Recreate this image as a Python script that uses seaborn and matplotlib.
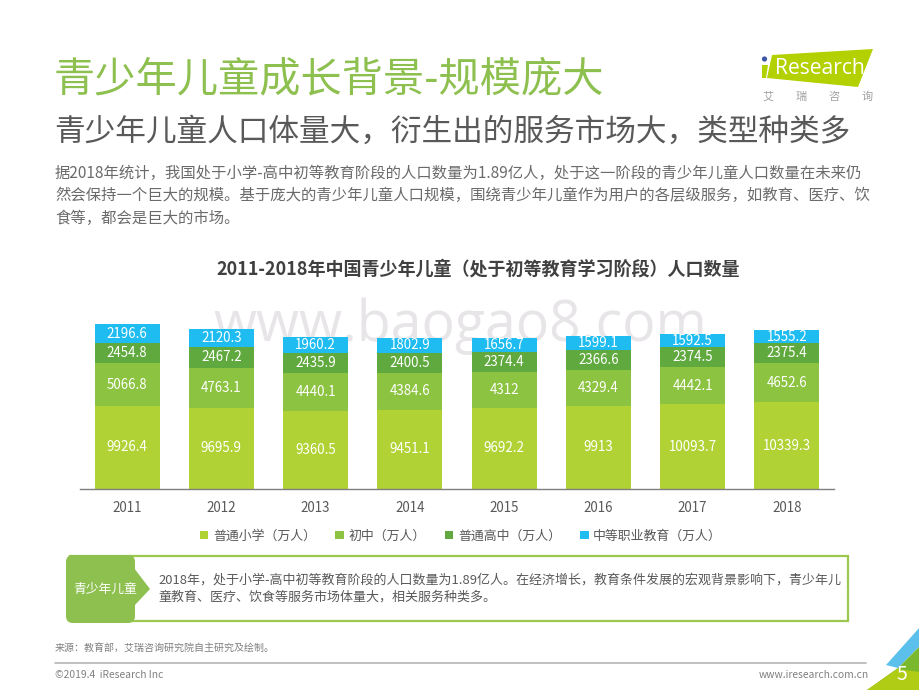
import numpy as np
import pandas as pd
import matplotlib
matplotlib.use("Agg")
import matplotlib.pyplot as plt
import seaborn as sns
from matplotlib.patches import FancyBboxPatch, Polygon, Rectangle, Circle

years = ["2011", "2012", "2013", "2014", "2015", "2016", "2017", "2018"]
primary = [9926.4, 9695.9, 9360.5, 9451.1, 9692.2, 9913, 10093.7, 10339.3]
junior = [5066.8, 4763.1, 4440.1, 4384.6, 4312, 4329.4, 4442.1, 4652.6]
senior = [2454.8, 2467.2, 2435.9, 2400.5, 2374.4, 2366.6, 2374.5, 2375.4]
vocational = [2196.6, 2120.3, 1960.2, 1802.9, 1656.7, 1599.1, 1592.5, 1555.2]
series_names = ["普通小学（万人）", "初中（万人）", "普通高中（万人）", "中等职业教育（万人）"]
series_colors = ["#b1d235", "#8cc340", "#5fa93e", "#1fbcf2"]

title = "青少年儿童成长背景-规模庞大"
subtitle = "青少年儿童人口体量大，衍生出的服务市场大，类型种类多"
body_lines = [
    "据2018年统计，我国处于小学-高中初等教育阶段的人口数量为1.89亿人，处于这一阶段的青少年儿童人口数量在未来仍",
    "然会保持一个巨大的规模。基于庞大的青少年儿童人口规模，围绕青少年儿童作为用户的各层级服务，如教育、医疗、饮",
    "食等，都会是巨大的市场。",
]
chart_title = "2011-2018年中国青少年儿童（处于初等教育学习阶段）人口数量"
callout_lines = [
    "2018年，处于小学-高中初等教育阶段的人口数量为1.89亿人。在经济增长，教育条件发展的宏观背景影响下，青少年儿",
    "童教育、医疗、饮食等服务市场体量大，相关服务种类多。",
]

sns.set_theme(style="white")
plt.rcParams["font.family"] = ["Noto Sans CJK SC", "DejaVu Sans"]

W, H = 920, 690
fig = plt.figure(figsize=(W / 100, H / 100), dpi=100, facecolor="white")

# page furniture is laid out in pixels on a full-size axes
bg = fig.add_axes([0, 0, 1, 1])
bg.set_xlim(0, W)
bg.set_ylim(H, 0)
bg.axis("off")

GREEN = "#8dc04f"
GREY = "#595959"

bg.text(54, 80, title, fontsize=29.7, color=GREEN, va="center")
bg.text(54, 132, subtitle, fontsize=22.1, color=GREY, va="center")
for y, line in zip([173, 195.5, 218], body_lines):
    bg.text(55, y, line, fontsize=11.05, color="#6a6a6a", va="center")
bg.text(478.5, 269, chart_title, fontsize=13, color="#404040", weight="bold", ha="center", va="center")

# watermark
bg.text(460, 326, "www.baogao8.com", fontsize=40, color="#e8e5e8", ha="center", va="center",
        family="Open Sans")

# logo
bg.add_patch(Polygon([(772, 55), (873, 49), (858, 87), (767, 78)], color="#b3d000", lw=0))
bg.add_patch(Polygon([(762, 65), (768, 65), (766, 78), (762, 78)], color="#b3d000", lw=0))
bg.add_patch(Circle((764.5, 59), 2.6, color="#3f56a6", lw=0))
bg.text(775, 69, "Research", fontsize=15.2, color="white", va="center", family="Open Sans")
for x, ch in zip([768, 801, 834, 867], "艾瑞咨询"):
    bg.text(x, 97, ch, fontsize=8, color="#a0a0a0", ha="center", va="center")

# callout box
bg.add_patch(Rectangle((70, 556), 778, 65, fill=False, edgecolor="#9cc850", lw=1.6))
bg.add_patch(FancyBboxPatch((70, 559), 61, 60, boxstyle="round,pad=4,rounding_size=7", color=GREEN, lw=0))
bg.add_patch(Polygon([(134, 568), (150, 589), (134, 606)], color=GREEN, lw=0))
bg.text(105, 589, "青少年儿童", fontsize=9.2, color="white", ha="center", va="center")
for y, line in zip([580, 597], callout_lines):
    bg.text(158, y, line, fontsize=9.35, color=GREY, va="center")

# footer
bg.text(55, 649, "来源：教育部，艾瑞咨询研究院自主研究及绘制。", fontsize=7.2, color="#808080", va="center")
bg.plot([55, 866], [663, 663], color="#b4b4b4", lw=1.2)
bg.text(55, 674.5, "©2019.4  iResearch Inc", fontsize=7.4, color="#808080", va="center")
bg.text(869, 674.5, "www.iresearch.com.cn", fontsize=7.4, color="#808080", ha="right", va="center")
bg.add_patch(Polygon([(920, 627), (886, 665), (898, 668), (920, 646)], color="#5cc0ec", lw=0))
bg.add_patch(Polygon([(867, 690), (898, 668), (920, 646), (920, 690)], color="#7ab92d", lw=0))
bg.add_patch(Polygon([(867, 690), (897, 669), (920, 672), (920, 690)], color="#b0cc14", lw=0))
bg.text(902, 675, "5", fontsize=14, color="white", ha="center", va="center")

# chart, axes placed so that the baseline sits at y=489 and bars span x=80..834
left, right, bottom_px, top_px = 80, 834, 489, 314
ax = fig.add_axes([left / W, 1 - bottom_px / H, (right - left) / W, (bottom_px - top_px) / H])
ax.patch.set_alpha(0)

df = pd.DataFrame({"year": years, "primary": primary, "junior": junior,
                   "senior": senior, "vocational": vocational})
base = np.zeros(len(years))
for col, name, color in zip(["primary", "junior", "senior", "vocational"], series_names, series_colors):
    sns.barplot(data=df, x="year", y=col, color=color, saturation=1, width=0.69, bottom=base,
                errorbar=None, label=name, legend=False, ax=ax, linewidth=0)
    ax.bar_label(ax.containers[-1], labels=[f"{v:g}" for v in df[col]], label_type="center",
                 color="white", fontsize=9.6)
    base = base + df[col].to_numpy()

ax.set_xlim(-0.5, 7.5)
ax.set_ylim(0, 175 / 0.00838)
ax.set_xlabel("")
ax.set_ylabel("")
ax.set_yticks([])
sns.despine(ax=ax, left=True)
ax.spines["bottom"].set_color("#7f7f7f")
ax.spines["bottom"].set_linewidth(1)
ax.tick_params(axis="x", length=0, pad=9, labelsize=9.6, labelcolor="#595959")

ax.legend(loc="center", bbox_to_anchor=(461, 536), bbox_transform=bg.transData, ncol=4, frameon=False,
          fontsize=9.3, handlelength=0.65, handleheight=0.65, handletextpad=0.35, columnspacing=1.5,
          labelcolor="#595959", borderpad=0)

fig.savefig("out.png", dpi=100)
